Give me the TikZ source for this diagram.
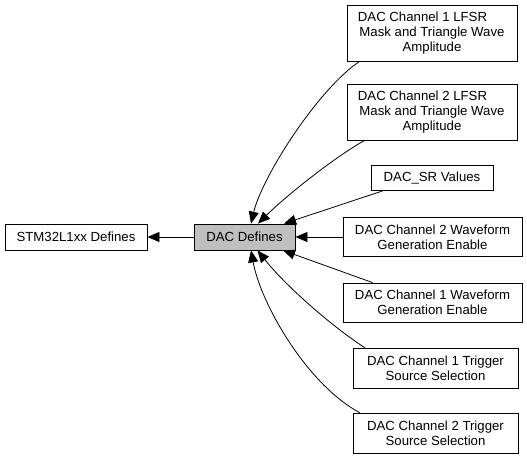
\documentclass[tikz,border=0pt]{standalone}
\usepackage{fontspec}
\setmainfont{Liberation Sans}
\usetikzlibrary{arrows.meta,calc}
\begin{document}
\begin{tikzpicture}[x=1pt,y=-1pt,
  box/.style={draw=black, line width=0.8pt, fill=white, inner sep=0pt, align=center,
    font=\fontsize{13.2}{15}\selectfont},
  edge/.style={line width=0.8pt, -{Triangle[length=12pt,width=10pt]}}]
\useasboundingbox (0,0) rectangle (527,459);
\node[box, minimum width=142, minimum height=26] (stm) at (76,237) {STM32L1xx Defines};
\node[box, fill={rgb,255:red,191;green,191;blue,191}, minimum width=101, minimum height=26] (dac) at (244.5,237) {DAC Defines};
\node[box, minimum width=170, minimum height=56] (b1) at (432,33) {DAC Channel 1 LFSR\hspace*{19pt}\\Mask and Triangle Wave\\Amplitude};
\node[box, minimum width=170, minimum height=56] (b2) at (432,112) {DAC Channel 2 LFSR\hspace*{19pt}\\Mask and Triangle Wave\\Amplitude};
\node[box, minimum width=122, minimum height=25] (b3) at (432,178) {DAC\_SR Values};
\node[box, minimum width=179, minimum height=39] (b4) at (432.5,237) {DAC Channel 2 Waveform\\Generation Enable};
\node[box, minimum width=179, minimum height=39] (b5) at (432.5,302.5) {DAC Channel 1 Waveform\\Generation Enable};
\node[box, minimum width=165, minimum height=40] (b6) at (435.5,368) {DAC Channel 1 Trigger\\Source Selection};
\node[box, minimum width=165, minimum height=40] (b7) at (435.5,433) {DAC Channel 2 Trigger\\Source Selection};

\draw[edge] (dac.west) -- (stm.east);
\draw[edge] ($(b1.south west)+(13,0)$) .. controls (318,89) and (262,177) .. ($(dac.north)+(6.5,0)$);
\draw[edge] ($(b2.south west)+(18,0)$) .. controls (335,157) and (287,195) .. ($(dac.north)+(13.5,0)$);
\draw[edge] ($(b3.south west)+(12,0)$) -- ($(dac.north)+(39.5,0)$);
\draw[edge] (b4.west) -- (dac.east);
\draw[edge] ($(b5.north west)+(30,0)$) -- ($(dac.south)+(38.5,0)$);
\draw[edge] ($(b6.north west)+(12,0)$) .. controls (330,325) and (285,285) .. ($(dac.south)+(13,0)$);
\draw[edge] ($(b7.north west)+(7,0)$) .. controls (308,385) and (261,305) .. ($(dac.south)+(6.5,0)$);
\end{tikzpicture}
\end{document}
